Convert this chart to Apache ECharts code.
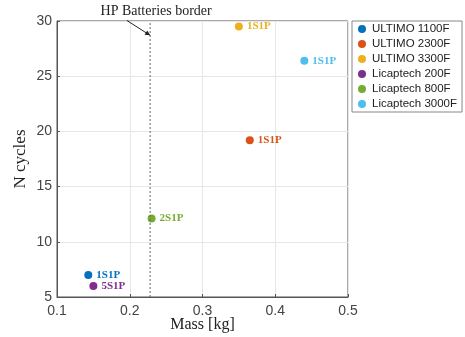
<!DOCTYPE html>
<html>
<head>
<meta charset="utf-8">
<script src="https://cdn.jsdelivr.net/npm/echarts@6/dist/echarts.min.js"></script>
<style>
html,body{margin:0;padding:0;background:#fff;}
#main{width:465px;height:337px;}
</style>
</head>
<body>
<div id="main"></div>
<script>
// data
var names = ['ULTIMO 1100F', 'ULTIMO 2300F', 'ULTIMO 3300F', 'Licaptech 200F', 'Licaptech 800F', 'Licaptech 3000F'];
var mass = [0.143, 0.365, 0.350, 0.150, 0.230, 0.440];
var cycles = [7, 19.2, 29.5, 6, 12.1, 26.4];
var configs = ['1S1P', '1S1P', '1S1P', '5S1P', '2S1P', '1S1P'];
var borderMass = 0.228;
var xTicks = [0.1, 0.2, 0.3, 0.4, 0.5];
var yTicks = [5, 10, 15, 20, 25, 30];

var colors = ['#0072BD', '#D95319', '#EDB120', '#7E2F8E', '#77AC30', '#4DBEEE'];
var serif = '"Liberation Serif", "Times New Roman", serif';
var sans = '"Liberation Sans", Arial, sans-serif';

var chart = echarts.init(document.getElementById('main'));

var series = names.map(function (n, i) {
  return {
    name: n,
    type: 'scatter',
    symbolSize: 8,
    clip: false,
    itemStyle: { color: colors[i], opacity: 1 },
    label: {
      show: true, position: 'right', distance: 4,
      formatter: configs[i],
      color: colors[i], fontFamily: serif, fontWeight: 'bold', fontSize: 11
    },
    data: [[mass[i], cycles[i]]]
  };
});

// dotted border line
series.push({
  type: 'line',
  silent: true,
  symbol: 'none',
  lineStyle: { color: '#666', type: [2, 2], width: 1 },
  data: [[borderMass, yTicks[0]], [borderMass, yTicks[yTicks.length - 1]]]
});

chart.setOption({
  animation: false,
  grid: {
    left: 57, right: 117, top: 21, bottom: 40,
    outerBoundsMode: 'none',
    containLabel: false,
    show: true, borderColor: '#555', borderWidth: 1
  },
  legend: {
    data: names,
    orient: 'vertical',
    left: 352, top: 21,
    icon: 'circle',
    itemWidth: 8, itemHeight: 8,
    itemGap: 3,
    padding: [2, 5, 2, 6],
    borderColor: '#888', borderWidth: 1,
    textStyle: { fontFamily: sans, fontSize: 11.5, color: '#222', padding: [0, 0, 0, 1], lineHeight: 11 }
  },
  xAxis: {
    type: 'value',
    min: xTicks[0], max: xTicks[xTicks.length - 1], interval: 0.1,
    name: 'Mass [kg]', nameLocation: 'middle', nameGap: 20, nameMoveOverlap: false,
    nameTextStyle: { fontFamily: serif, fontSize: 16, color: '#222' },
    axisLine: { show: true, lineStyle: { color: '#555' } },
    axisTick: { show: true, inside: true, length: 3, lineStyle: { color: '#555' } },
    axisLabel: { fontFamily: sans, fontSize: 14, color: '#444', margin: 7,
      formatter: function (v) { return v.toFixed(1); } },
    splitLine: { show: true, lineStyle: { color: '#e6e6e6' } }
  },
  yAxis: {
    type: 'value',
    min: yTicks[0], max: yTicks[yTicks.length - 1], interval: 5,
    name: 'N cycles', nameLocation: 'middle', nameGap: 28, nameRotate: 90, nameMoveOverlap: false,
    nameTextStyle: { fontFamily: serif, fontSize: 17, color: '#222' },
    axisLine: { show: true, lineStyle: { color: '#555' } },
    axisTick: { show: true, inside: true, length: 3, lineStyle: { color: '#555' } },
    axisLabel: { fontFamily: sans, fontSize: 14, color: '#444', margin: 5 },
    splitLine: { show: true, lineStyle: { color: '#e6e6e6' } }
  },
  series: series
});

// annotation placed through the chart's own scales
var pTxt = chart.convertToPixel({ gridIndex: 0 }, [borderMass, 30.9]);
var pA = chart.convertToPixel({ gridIndex: 0 }, [0.196, 30.05]);
var pB = chart.convertToPixel({ gridIndex: 0 }, [borderMass, 28.7]);
var ang = Math.atan2(pB[1] - pA[1], pB[0] - pA[0]);
var h = 5, w = 2.5;
chart.setOption({
  graphic: [
    {
      type: 'text', x: pTxt[0] + 6, y: pTxt[1],
      style: { text: 'HP Batteries border', font: '14px ' + serif, fill: '#222',
        align: 'center', verticalAlign: 'middle' }
    },
    {
      type: 'line',
      shape: { x1: pA[0], y1: pA[1], x2: pB[0], y2: pB[1] },
      style: { stroke: '#222', lineWidth: 1 }
    },
    {
      type: 'polygon',
      shape: { points: [
        [pB[0], pB[1]],
        [pB[0] - h * Math.cos(ang) + w * Math.sin(ang), pB[1] - h * Math.sin(ang) - w * Math.cos(ang)],
        [pB[0] - h * Math.cos(ang) - w * Math.sin(ang), pB[1] - h * Math.sin(ang) + w * Math.cos(ang)]
      ] },
      style: { fill: '#222' }
    }
  ]
});
</script>
</body>
</html>
